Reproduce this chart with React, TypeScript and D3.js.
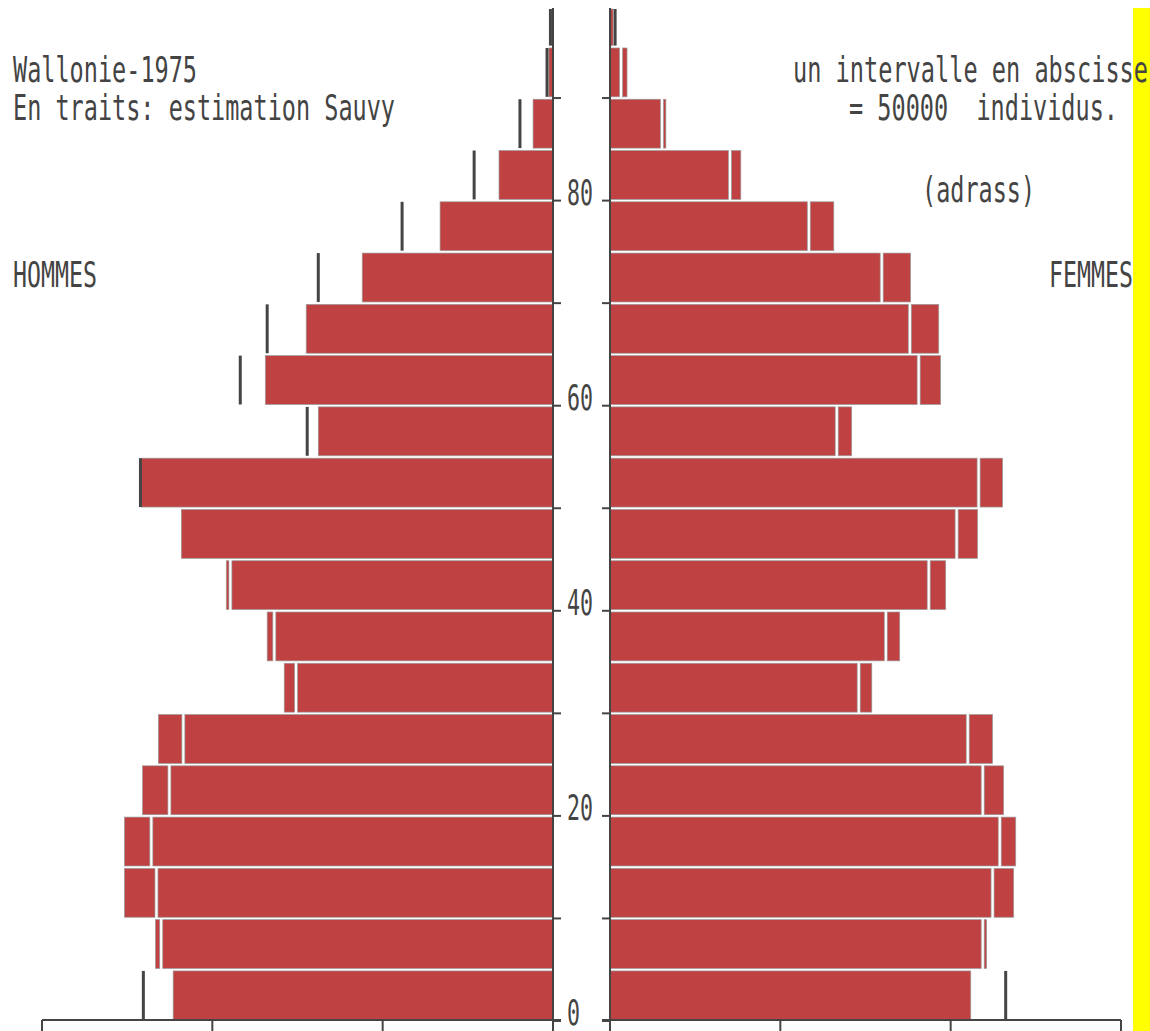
import React from 'react';
import * as d3 from 'd3';

// Age groups (5-year), from bottom to top
const ageStarts = [0, 5, 10, 15, 20, 25, 30, 35, 40, 45, 50, 55, 60, 65, 70, 75, 80, 85, 90, 95];
// Men (Hommes) 1975 population and Sauvy estimate
const menValues = [111500, 116700, 125800, 125800, 120500, 115850, 78900, 83900, 95900, 109100, 120800, 68900, 84450, 72450, 56000, 33150, 15850, 5850, 1200, 300];
const menSauvy = [120250, 115000, 116400, 117900, 112600, 108500, 75400, 81800, 94700, 109100, 121100, 72150, 91800, 83900, 68900, 44300, 23150, 9700, 1750, 750];
// Women (Femmes)
const womenValues = [105900, 110550, 118500, 119100, 115550, 112300, 76850, 85050, 98550, 107900, 115250, 70950, 97050, 96500, 88250, 65700, 38400, 16400, 5000, 900];
const womenSauvy = [116150, 109400, 112300, 114400, 109400, 105000, 73000, 80950, 93550, 101750, 108200, 66550, 90600, 88000, 79750, 58350, 35200, 15250, 3250, 1500];

const ageTicks = [0, 10, 20, 30, 40, 50, 60, 70, 80, 90];
const ageTickLabels = ['0', '20', '40', '60', '80'];
const popTicks = [0, 50000, 100000, 150000];

const W = 1150;
const H = 1031;
const RED = '#BF4141';
const DARK = '#444444';
const EDGE = '#9c9c9c';
const FONT = '"DejaVu Sans Mono", monospace';

export default function App() {
  const yAge = d3.scaleLinear().domain([0, 100]).range([1021, -4.5]);
  const xL = d3.scaleLinear().domain([0, 150000]).range([553, 42]);
  const xR = d3.scaleLinear().domain([0, 150000]).range([610, 1121]);
  const topY = 8;
  const baseY = 1020;

  const bars: React.ReactNode[] = [];
  ageStarts.forEach((a, i) => {
    const y0 = Math.max(yAge(a + 5) + 1.2, topY + 1);
    const y1 = yAge(a) - 1.2;
    const h = y1 - y0;
    // men
    {
      const v = menValues[i];
      const e = menSauvy[i];
      const xv = xL(v);
      const xe = xL(e);
      if (e < v) {
        bars.push(<rect key={`m1${i}`} x={xe + 1.5} y={y0} width={553 - xe - 1.5} height={h} fill={RED} stroke={EDGE} strokeWidth={0.7} />);
        bars.push(<rect key={`m2${i}`} x={xv} y={y0} width={Math.max(0, xe - 1.5 - xv)} height={h} fill={RED} stroke={EDGE} strokeWidth={0.7} />);
      } else {
        bars.push(<rect key={`m1${i}`} x={xv} y={y0} width={553 - xv} height={h} fill={RED} stroke={EDGE} strokeWidth={0.7} />);
        if (e > v) bars.push(<line key={`ml${i}`} x1={xe} x2={xe} y1={y0} y2={y1} stroke={DARK} strokeWidth={3} />);
      }
    }
    // women
    {
      const v = womenValues[i];
      const e = womenSauvy[i];
      const xv = xR(v);
      const xe = xR(e);
      if (e < v) {
        bars.push(<rect key={`w1${i}`} x={610} y={y0} width={xe - 1.5 - 610} height={h} fill={RED} stroke={EDGE} strokeWidth={0.7} />);
        bars.push(<rect key={`w2${i}`} x={xe + 1.5} y={y0} width={Math.max(0, xv - xe - 1.5)} height={h} fill={RED} stroke={EDGE} strokeWidth={0.7} />);
      } else {
        bars.push(<rect key={`w1${i}`} x={610} y={y0} width={xv - 610} height={h} fill={RED} stroke={EDGE} strokeWidth={0.7} />);
        if (e > v) bars.push(<line key={`wl${i}`} x1={xe} x2={xe} y1={y0} y2={y1} stroke={DARK} strokeWidth={3} />);
      }
    }
  });

  const txt = (s: string, x: number, y: number, len: number, key: string) => (
    <text key={key} x={x} y={y} textLength={len} lengthAdjust="spacingAndGlyphs" fontFamily={FONT} fontSize={36} fill={DARK} style={{ whiteSpace: 'pre' }} xmlSpace="preserve">
      {s}
    </text>
  );

  return (
    <svg width={W} height={H} style={{ position: 'absolute', left: 0, top: 0, background: '#fff' }}>
      <rect x={0} y={0} width={W} height={H} fill="#fff" />
      <rect x={1133} y={8} width={17} height={H - 8} fill="#FFFF00" />
      {bars}
      {/* vertical axes */}
      <line x1={553} x2={553} y1={topY} y2={baseY} stroke={DARK} strokeWidth={2} />
      <line x1={610} x2={610} y1={topY} y2={baseY} stroke={DARK} strokeWidth={2} />
      {/* age ticks */}
      {ageTicks.map((t) => (
        <g key={`t${t}`}>
          <line x1={553} x2={561} y1={yAge(t)} y2={yAge(t)} stroke={DARK} strokeWidth={2} />
          <line x1={602} x2={610} y1={yAge(t)} y2={yAge(t)} stroke={DARK} strokeWidth={2} />
        </g>
      ))}
      {ageTickLabels.map((l) => txt(l, 567, yAge(+l) + 4, 13 * l.length, `al${l}`))}
      {/* bottom axes */}
      <line x1={42} x2={561} y1={baseY} y2={baseY} stroke={DARK} strokeWidth={2} />
      <line x1={602} x2={1121} y1={baseY} y2={baseY} stroke={DARK} strokeWidth={2} />
      {popTicks.map((p) => (
        <g key={`p${p}`}>
          <line x1={xL(p)} x2={xL(p)} y1={baseY} y2={H} stroke={DARK} strokeWidth={2} />
          <line x1={xR(p)} x2={xR(p)} y1={baseY} y2={H} stroke={DARK} strokeWidth={2} />
        </g>
      ))}
      {/* texts */}
      {txt('Wallonie-1975', 13, 82, 184, 't1')}
      {txt('En traits: estimation Sauvy', 13, 120, 382, 't2')}
      {txt('un intervalle en abscisse', 793, 82, 355, 't3')}
      {txt('= 50000  individus.', 849, 120, 269, 't4')}
      {txt('(adrass)', 922, 202, 113, 't5')}
      {txt('HOMMES', 13, 287, 84, 't6')}
      {txt('FEMMES', 1049, 287, 84, 't7')}
    </svg>
  );
}
